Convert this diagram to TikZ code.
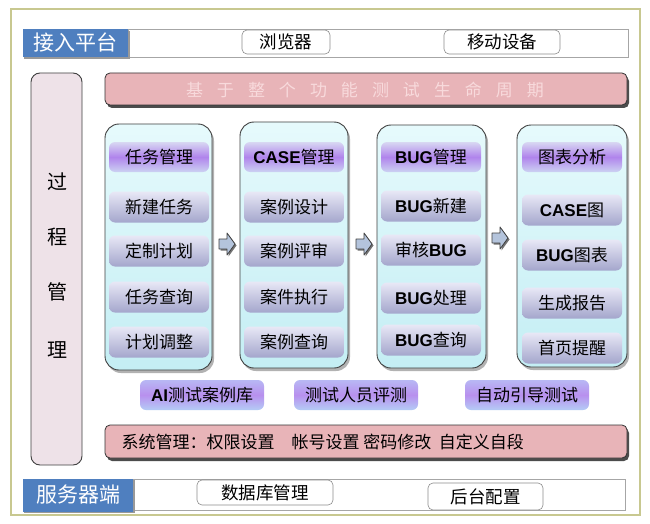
\documentclass[tikz,border=0pt]{standalone}
\usepackage{fontspec}
\setmainfont{Noto Sans CJK SC}
\newfontfamily\latf{Liberation Sans}
\definecolor{frameol}{HTML}{C8C890}
\definecolor{blueLab}{HTML}{4F7FBF}
\definecolor{pinkbar}{HTML}{E8B4B8}
\definecolor{pinktxt}{HTML}{F8DADC}
\definecolor{leftbg}{HTML}{EEE2E8}
\definecolor{coltop}{HTML}{E6FAFC}
\definecolor{colbot}{HTML}{C4EEF4}
\definecolor{itop}{HTML}{E8E8F6}
\definecolor{ibot}{HTML}{A4A6CC}
\definecolor{htop}{HTML}{D8D8F2}
\definecolor{hmid}{HTML}{B084EC}
\definecolor{hbot}{HTML}{CCD2F2}
\definecolor{btop}{HTML}{B8B8F4}
\definecolor{bmid}{HTML}{B890EE}
\definecolor{bbot}{HTML}{B4CCF6}
\definecolor{arrowfill}{HTML}{B4C4DC}
\newcommand{\lt}[1]{{\latf\bfseries #1}}
\tikzset{
  cjk/.style={font=\fontsize{17}{17}\selectfont},
  bluelab/.style={fill=blueLab, text=white, font=\fontsize{21}{21}\selectfont, inner sep=0pt, anchor=center},
  whitebar/.style={draw=black!35, fill=white, line width=0.6pt},
  btn/.style={draw=black!45, fill=white, rounded corners=5pt, line width=0.6pt, font=\fontsize{17.5}{17.5}\selectfont, inner sep=0pt, minimum height=24},
  colbox/.style={draw=black!75, line width=0.9pt, rounded corners=14pt, top color=coltop, bottom color=colbot},
  colshadow/.style={fill=black!30, rounded corners=14pt},
  itembox/.style={rounded corners=6pt, top color=itop, bottom color=ibot, minimum height=31, inner sep=0pt, cjk},
  headbox/.style={rounded corners=6pt, top color=htop, bottom color=hbot, middle color=hmid, minimum height=30, inner sep=0pt, cjk},
  extbox/.style={rounded corners=6pt, top color=btop, bottom color=bbot, middle color=bmid, minimum height=30, minimum width=124, inner sep=0pt, font=\fontsize{17}{17}\selectfont},
  blockarrow/.style={draw=black!75, fill=arrowfill, line width=0.8pt, line join=round},
  arrowshadow/.style={fill=black!55},
  pinkshape/.style={draw=black!80, fill=pinkbar, line width=0.8pt, rounded corners=5pt},
}
\begin{document}
\begin{tikzpicture}[x=1pt,y=-1pt]
\useasboundingbox (0,0) rectangle (650,524);
\fill[white] (0,0) rectangle (650,524);
\draw[frameol, line width=1.2pt] (11,9) rectangle (640,515);

% access platform
\draw[whitebar] (128,29) rectangle (628,57);
\fill[black!40] (24,31) rectangle (130,59);
\node[bluelab, minimum width=105, minimum height=28] (access) at (75.5,43) {接入平台};
\node[btn, minimum width=88] (browser) at (286,42) {浏览器};
\node[btn, minimum width=116] (mobile) at (502,42) {移动设备};

% left process box
\draw[draw=black!75, fill=leftbg, line width=0.9pt, rounded corners=9pt] (31,73) rectangle (82,465);
\node[font=\fontsize{20}{20}\selectfont] (p1) at (57,182) {过};
\node[font=\fontsize{20}{20}\selectfont] (p2) at (57,237) {程};
\node[font=\fontsize{20}{20}\selectfont] (p3) at (57,292) {管};
\node[font=\fontsize{20}{20}\selectfont] (p4) at (57,350) {理};

% banner
\fill[black!70, rounded corners=5pt] (107,76) rectangle (629,108);
\draw[pinkshape] (105,73) rectangle (627,105);
\node[text=pinktxt, font=\fontsize{17}{17}\selectfont] (banner) at (365,90) {基\hspace{14pt}于\hspace{14pt}整\hspace{14pt}个\hspace{14pt}功\hspace{14pt}能\hspace{14pt}测\hspace{14pt}试\hspace{14pt}生\hspace{14pt}命\hspace{14pt}周\hspace{14pt}期};

% columns
\fill[colshadow] (107,127) rectangle (214,373);
\draw[colbox] (105,124) rectangle (212,370);
\fill[colshadow] (242,125) rectangle (350,371);
\draw[colbox] (240,122) rectangle (348,368);
\fill[colshadow] (379,128) rectangle (488,371);
\draw[colbox] (377,125) rectangle (486,368);
\fill[colshadow] (519,128) rectangle (629,370);
\draw[colbox] (517,125) rectangle (627,367);

% column 1
\node[headbox, minimum width=100] (c1h) at (159,157) {任务管理};
\node[itembox, minimum width=100] (c1a) at (159,207) {新建任务};
\node[itembox, minimum width=100] (c1b) at (159,251) {定制计划};
\node[itembox, minimum width=100] (c1c) at (159,297) {任务查询};
\node[itembox, minimum width=100] (c1d) at (159,342) {计划调整};
% column 2
\node[headbox, minimum width=100] (c2h) at (294,157) {\lt{CASE}管理};
\node[itembox, minimum width=100] (c2a) at (294,207) {案例设计};
\node[itembox, minimum width=100] (c2b) at (294,251) {案例评审};
\node[itembox, minimum width=100] (c2c) at (294,297) {案件执行};
\node[itembox, minimum width=100] (c2d) at (294,342) {案例查询};
% column 3
\node[headbox, minimum width=100] (c3h) at (431,157) {\lt{BUG}管理};
\node[itembox, minimum width=100] (c3a) at (431,206) {\lt{BUG}新建};
\node[itembox, minimum width=100] (c3b) at (431,250) {审核\lt{BUG}};
\node[itembox, minimum width=100] (c3c) at (431,298) {\lt{BUG}处理};
\node[itembox, minimum width=100] (c3d) at (431,340) {\lt{BUG}查询};
% column 4
\node[headbox, minimum width=100] (c4h) at (572,157) {图表分析};
\node[itembox, minimum width=100] (c4a) at (572,210) {\lt{CASE}图};
\node[itembox, minimum width=100] (c4b) at (572,255) {\lt{BUG}图表};
\node[itembox, minimum width=100] (c4c) at (572,303) {生成报告};
\node[itembox, minimum width=100] (c4d) at (572,348) {首页提醒};

% block arrows
\coordinate (ar1) at (227,244);
\coordinate (ar2) at (364,244);
\coordinate (ar3) at (500,238);
\foreach \a in {ar1,ar2,ar3}{
  \fill[arrowshadow, shift={(\a)}, xshift=1.5pt, yshift=-1.5pt] (-8,-5) -- (0,-5) -- (0,-11) -- (8,0) -- (0,11) -- (0,5) -- (-8,5) -- cycle;
  \draw[blockarrow, shift={(\a)}] (-8,-5) -- (0,-5) -- (0,-11) -- (8,0) -- (0,11) -- (0,5) -- (-8,5) -- cycle;
}

% extension boxes
\node[extbox] (ai) at (202,395) {\lt{AI}测试案例库};
\node[extbox] (tester) at (356,395) {测试人员评测};
\node[extbox] (auto) at (527,395) {自动引导测试};

% system management
\fill[black!70, rounded corners=5pt] (107,428) rectangle (629,461);
\draw[pinkshape] (105,425) rectangle (627,458);
\node[anchor=west, font=\fontsize{17}{17}\selectfont] (sysm) at (118,441.5) {系统管理：权限设置\quad 帐号设置 密码修改\ \ 自定义自段};

% server side
\draw[whitebar] (133,479) rectangle (625,510);
\fill[black!40] (24,480) rectangle (135,513);
\node[bluelab, minimum width=110, minimum height=33] (server) at (78,495) {服务器端};
\node[btn, minimum width=136, minimum height=25] (db) at (265,492.5) {数据库管理};
\node[btn, minimum width=115, minimum height=27] (backend) at (485.5,496.5) {后台配置};
\end{tikzpicture}
\end{document}
